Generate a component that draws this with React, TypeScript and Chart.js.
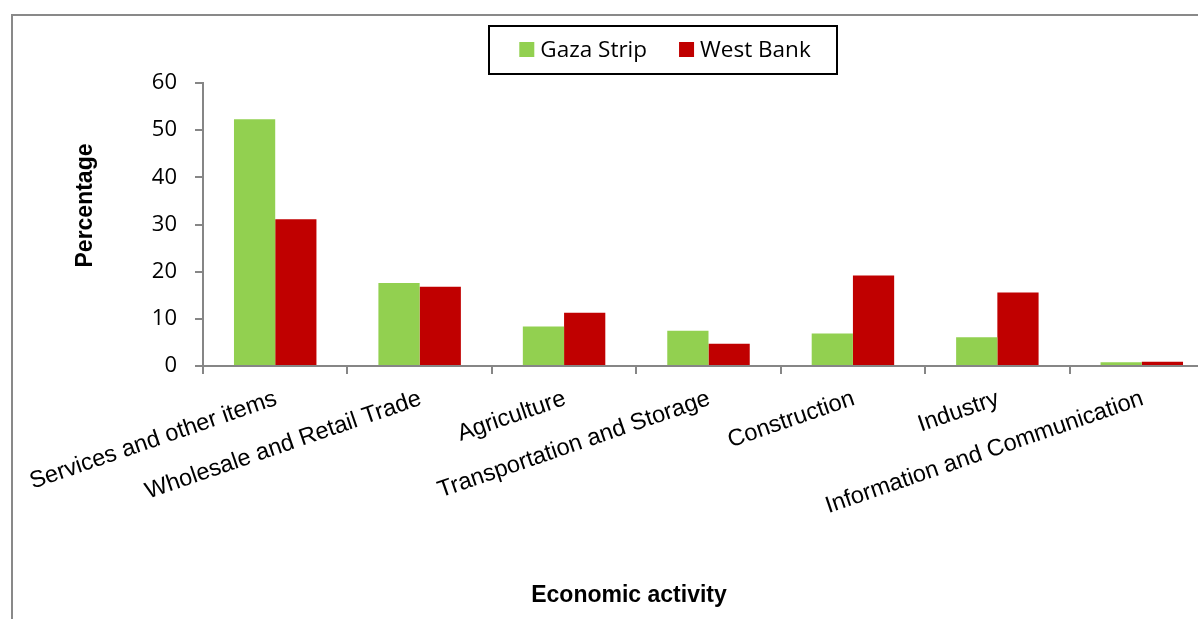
import React, { useEffect, useRef } from 'react';
import { Chart, registerables } from 'chart.js';

Chart.register(...registerables);

const categories = [
  'Services and other items',
  'Wholesale and Retail Trade',
  'Agriculture',
  'Transportation and Storage',
  'Construction',
  'Industry',
  'Information and Communication',
];
const gazaStrip = [52.3, 17.6, 8.4, 7.5, 6.9, 6.1, 0.8];
const westBank = [31.1, 16.8, 11.3, 4.7, 19.2, 15.6, 0.9];
const seriesNames = ['Gaza Strip', 'West Bank'];
const seriesColors = ['#92D050', '#C00000'];
const yTicks = [0, 10, 20, 30, 40, 50, 60];
const xTitle = 'Economic activity';
const yTitle = 'Percentage';

const CANVAS_W = 1232;
const CANVAS_H = 620;
const LABEL_ANGLE = 19;

const decorPlugin = {
  id: 'decor',
  afterDraw(chart: any) {
    const ctx = chart.ctx as CanvasRenderingContext2D;
    const xs = chart.scales.x;
    const area = chart.chartArea;
    ctx.save();

    // category labels (rotated)
    ctx.font = '23.6px "Liberation Sans", Arial, sans-serif';
    ctx.fillStyle = '#000';
    ctx.textAlign = 'right';
    ctx.textBaseline = 'top';
    categories.forEach((c, i) => {
      const x = xs.getPixelForValue(i);
      ctx.save();
      ctx.translate(x - 3, area.bottom + 21);
      ctx.rotate((-LABEL_ANGLE * Math.PI) / 180);
      ctx.fillText(c, 0, 0);
      ctx.restore();
    });

    // y axis title
    ctx.font = 'bold 23px "Liberation Sans", Arial, sans-serif';
    ctx.textAlign = 'center';
    ctx.textBaseline = 'middle';
    ctx.save();
    ctx.translate(73, (area.top + area.bottom) / 2 - 19);
    ctx.rotate(-Math.PI / 2);
    ctx.fillText(yTitle, 0, 0);
    ctx.restore();

    // x axis title
    ctx.textBaseline = 'alphabetic';
    ctx.fillText(xTitle, chart.width / 2, 586);

    // legend
    const boxL = 475, boxT = 9, boxW = 350, boxH = 50;
    ctx.strokeStyle = '#000';
    ctx.lineWidth = 2;
    ctx.strokeRect(boxL + 1, boxT + 1, boxW - 2, boxH - 2);
    ctx.font = '22.5px "Open Sans", sans-serif';
    ctx.textAlign = 'left';
    ctx.textBaseline = 'alphabetic';
    const sq = 15, gap = 6, itemGap = 32;
    const widths = chart.data.datasets.map((d: any) => ctx.measureText(d.label).width);
    const total = widths.reduce((a: number, w: number) => a + w, 0) + chart.data.datasets.length * (sq + gap) + itemGap * (chart.data.datasets.length - 1);
    let x = boxL + boxW / 2 - total / 2 + 2;
    const baseY = 41;
    chart.data.datasets.forEach((d: any, i: number) => {
      ctx.fillStyle = d.backgroundColor;
      ctx.fillRect(x, baseY - sq, sq, sq);
      x += sq + gap;
      ctx.fillStyle = '#000';
      ctx.fillText(d.label, x, baseY);
      x += widths[i] + itemGap;
    });

    ctx.restore();
  },
};

export default function App() {
  const ref = useRef<HTMLCanvasElement>(null);

  useEffect(() => {
    const chart = new Chart(ref.current as HTMLCanvasElement, {
      type: 'bar',
      data: {
        labels: categories,
        datasets: [
          { label: seriesNames[0], data: gazaStrip, backgroundColor: seriesColors[0], borderWidth: 0, categoryPercentage: 0.571, barPercentage: 1 },
          { label: seriesNames[1], data: westBank, backgroundColor: seriesColors[1], borderWidth: 0, categoryPercentage: 0.571, barPercentage: 1 },
        ],
      },
      options: {
        animation: false,
        responsive: false,
        maintainAspectRatio: false,
        layout: { padding: { top: 67, right: 31, left: 0, bottom: 0 } },
        plugins: {
          legend: { display: false },
          tooltip: { enabled: false },
          title: { display: false },
        },
        scales: {
          x: {
            z: 1,
            grid: { drawOnChartArea: false, drawTicks: true, tickLength: 8, color: '#868686', lineWidth: 2, offset: true },
            border: { color: '#868686', width: 2 },
            ticks: { display: false },
            afterFit: (s: any) => { s.height = 270; },
          },
          y: {
            z: 1,
            min: 0,
            max: 60,
            afterBuildTicks: (s: any) => { s.ticks = yTicks.map((v) => ({ value: v })); },
            ticks: { color: '#000', font: { family: '"Open Sans", sans-serif', size: 22 }, padding: 18 },
            grid: { drawOnChartArea: false, drawTicks: true, tickLength: 8, color: '#868686', lineWidth: 2 },
            border: { color: '#868686', width: 2 },
            afterFit: (s: any) => { s.width = 190; },
          },
        },
      },
      plugins: [decorPlugin],
    } as any);
    return () => chart.destroy();
  }, []);

  return (
    <div style={{ position: 'fixed', left: 0, top: 0, width: '100vw', height: '100vh', overflow: 'hidden', background: '#fff' }}>
      <div style={{ position: 'absolute', left: 11, top: 14, border: '2px solid #898989', width: CANVAS_W, height: CANVAS_H, background: '#fff' }}>
        <canvas ref={ref} width={CANVAS_W} height={CANVAS_H} style={{ display: 'block', width: CANVAS_W, height: CANVAS_H }} />
      </div>
    </div>
  );
}
